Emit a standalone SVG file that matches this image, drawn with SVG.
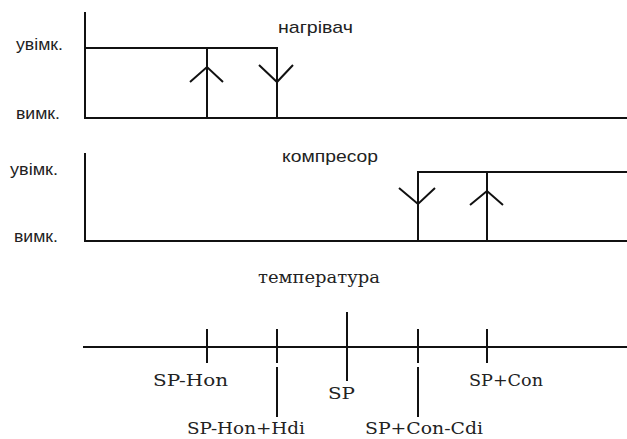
<svg xmlns="http://www.w3.org/2000/svg" width="627" height="439" viewBox="0 0 627 439">
<style>
.ln{stroke:#111;stroke-width:2;fill:none;stroke-linecap:butt}
.sans{font-family:"Liberation Sans",Arial,sans-serif;font-size:17px;fill:#222}
.mono{font-family:"DejaVu Serif","Liberation Serif",serif;font-size:16px;fill:#222}
</style>
<rect width="627" height="439" fill="#fff"/>
<g id="heater">
<polyline class="ln" points="85,12 85,118 627,118"/>
<polyline class="ln" points="85,48 277,48 277,118"/>
<line class="ln" x1="207" y1="48" x2="207" y2="118"/>
<polyline class="ln" points="190,82 207,67 223,82"/>
<polyline class="ln" points="259,65 277,82 293,65"/>
<text class="sans" x="16" y="50" textLength="47" lengthAdjust="spacingAndGlyphs">увімк.</text>
<text class="sans" x="16" y="119" textLength="44" lengthAdjust="spacingAndGlyphs">вимк.</text>
<text class="sans" x="278" y="33" textLength="75" lengthAdjust="spacingAndGlyphs">нагрівач</text>
</g>
<g id="compressor">
<polyline class="ln" points="85,153 85,241 627,241"/>
<polyline class="ln" points="418,241 418,172 627,172"/>
<line class="ln" x1="487" y1="172" x2="487" y2="241"/>
<polyline class="ln" points="399,188 418,204 435,188"/>
<polyline class="ln" points="470,205 487,191 503,205"/>
<text class="sans" x="10" y="175" textLength="48" lengthAdjust="spacingAndGlyphs">увімк.</text>
<text class="sans" x="14" y="242" textLength="44" lengthAdjust="spacingAndGlyphs">вимк.</text>
<text class="sans" x="282" y="162" textLength="96" lengthAdjust="spacingAndGlyphs">компресор</text>
</g>
<g id="temperature">
<text class="mono" x="258" y="283" textLength="122" lengthAdjust="spacingAndGlyphs">температура</text>
<line class="ln" x1="83" y1="347" x2="627" y2="347"/>
<line class="ln" x1="207" y1="329" x2="207" y2="363"/>
<line class="ln" x1="277" y1="329" x2="277" y2="363"/>
<line class="ln" x1="277" y1="367" x2="277" y2="417"/>
<line class="ln" x1="347" y1="312" x2="347" y2="381"/>
<line class="ln" x1="418" y1="329" x2="418" y2="363"/>
<line class="ln" x1="418" y1="367" x2="418" y2="417"/>
<line class="ln" x1="487" y1="329" x2="487" y2="363"/>
<text class="mono" x="153" y="386" textLength="75" lengthAdjust="spacingAndGlyphs">SP-Hon</text>
<text class="mono" x="187" y="434" textLength="118" lengthAdjust="spacingAndGlyphs">SP-Hon+Hdi</text>
<text class="mono" x="328" y="399" textLength="27" lengthAdjust="spacingAndGlyphs">SP</text>
<text class="mono" x="469" y="386" textLength="74" lengthAdjust="spacingAndGlyphs">SP+Con</text>
<text class="mono" x="365" y="434" textLength="118" lengthAdjust="spacingAndGlyphs">SP+Con-Cdi</text>
</g>
</svg>
